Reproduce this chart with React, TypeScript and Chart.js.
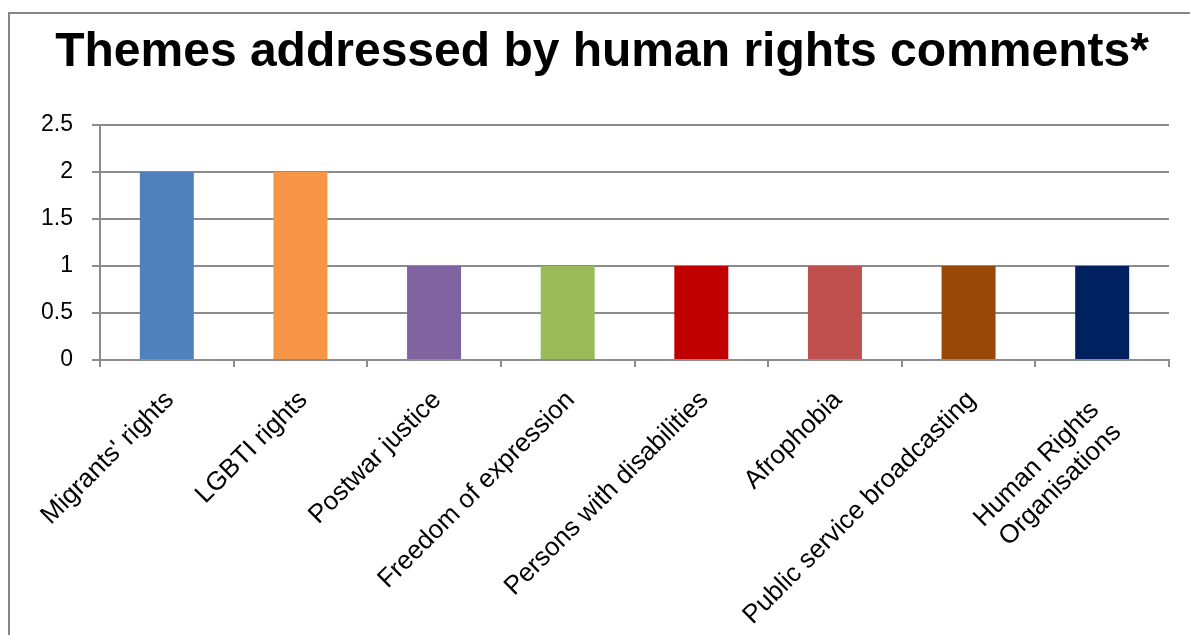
import React, { useEffect, useRef } from 'react';
import { Chart, registerables } from 'chart.js';

Chart.register(...registerables);

const titleText = 'Themes addressed by human rights comments*';

const categories: (string | string[])[] = [
  "Migrants' rights",
  'LGBTI rights',
  'Postwar justice',
  'Freedom of expression',
  'Persons with disabilities',
  'Afrophobia',
  'Public service broadcasting',
  ['Human Rights  ', 'Organisations  '],
];

const values = [2, 2, 1, 1, 1, 1, 1, 1];

const barColors = [
  '#4F81BD',
  '#F79646',
  '#8064A2',
  '#9BBB59',
  '#C00000',
  '#C0504D',
  '#984807',
  '#002060',
];

const yMin = 0;
const yMax = 2.5;
const yStep = 0.5;

const FONT = '"Liberation Sans", Arial, Helvetica, sans-serif';
const GRID = '#8c8c8c';

export default function App() {
  const canvasRef = useRef<HTMLCanvasElement | null>(null);

  useEffect(() => {
    if (!canvasRef.current) return;
    const chart = new Chart(canvasRef.current, {
      type: 'bar',
      data: {
        labels: categories,
        datasets: [
          {
            data: values,
            backgroundColor: barColors,
            borderWidth: 0,
            categoryPercentage: 1,
            barPercentage: 0.404,
          },
        ],
      },
      options: {
        animation: false,
        responsive: false,
        maintainAspectRatio: false,
        layout: { padding: { left: 35, right: 21, top: 0, bottom: 0 } },
        plugins: {
          legend: { display: false },
          tooltip: { enabled: false },
          title: {
            display: true,
            text: titleText,
            color: '#000',
            font: { family: FONT, size: 48, weight: 'bold', lineHeight: 1.2 },
            padding: { top: 24, bottom: 43.4 },
          },
        },
        scales: {
          x: {
            offset: true,
            grid: {
              display: true,
              drawOnChartArea: false,
              drawTicks: true,
              tickLength: 7,
              color: GRID,
              lineWidth: 2,
              offset: true,
            },
            border: { display: true, color: GRID, width: 2 },
            ticks: {
              color: '#000',
              font: { family: FONT, size: 26 },
              minRotation: 45,
              maxRotation: 45,
              autoSkip: false,
              padding: 18,
              labelOffset: 3,
            },
            afterFit: (scale: any) => {
              scale.height = 275;
            },
          },
          y: {
            min: yMin,
            max: yMax,
            grid: {
              color: GRID,
              lineWidth: 2,
              tickLength: 8,
              drawTicks: true,
            },
            border: { display: true, color: GRID, width: 2 },
            ticks: {
              stepSize: yStep,
              color: '#000',
              font: { family: FONT, size: 23 },
              padding: 19,
              callback: (v: any) => String(v),
            },
            afterFit: (scale: any) => {
              scale.width = 65;
            },
          },
        },
      },
    });
    return () => chart.destroy();
  }, []);

  return (
    <div
      style={{
        position: 'fixed',
        left: 0,
        top: 0,
        width: 1190,
        height: 635,
        overflow: 'hidden',
        background: '#fff',
      }}
    >
      <div
        style={{
          position: 'absolute',
          left: 8,
          top: 12,
          width: 1300,
          height: 800,
          border: '2px solid #868686',
          boxSizing: 'border-box',
        }}
      />
      <canvas
        ref={canvasRef}
        width={1190}
        height={635}
        style={{ position: 'absolute', left: 0, top: 0, width: 1190, height: 635 }}
      />
    </div>
  );
}
